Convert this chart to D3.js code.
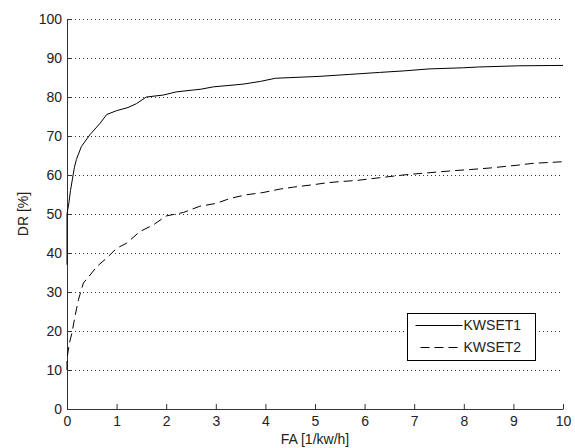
<!DOCTYPE html>
<html>
<head>
<meta charset="utf-8">
<script src="https://cdn.jsdelivr.net/npm/d3@7"></script>
<style>
  body { margin: 0; background: #fff; }
  svg { display: block; font-family: "Liberation Sans", Arial, sans-serif; }
</style>
</head>
<body>
<svg id="chart" width="575" height="448"></svg>
<script>
// values
const faSet1 = [0, 0, 0.04, 0.07, 0.11, 0.15, 0.19, 0.29, 0.46, 0.67, 0.8, 1.0, 1.23, 1.4, 1.6, 1.94, 2.2, 2.55, 2.7, 2.95, 3.55, 3.9, 4.2, 5.1, 5.7, 6.3, 6.8, 7.3, 8.0, 8.3, 9.1, 10];
const drSet1 = [37, 50, 53, 56, 59, 62, 64, 67.3, 70.3, 73.3, 75.5, 76.5, 77.3, 78.3, 80, 80.5, 81.3, 81.8, 82, 82.6, 83.3, 84, 84.8, 85.3, 85.8, 86.3, 86.7, 87.2, 87.5, 87.7, 88, 88.1];

const faSet2 = [0, 0, 0.05, 0.1, 0.16, 0.23, 0.33, 0.5, 0.6, 0.8, 1.0, 1.2, 1.47, 1.74, 2.0, 2.35, 2.68, 3.0, 3.29, 3.6, 3.95, 4.3, 4.57, 4.96, 5.24, 5.5, 5.84, 6.3, 6.85, 7.32, 7.78, 8.13, 8.53, 9.07, 9.4, 10];
const drSet2 = [10, 13, 17, 19.5, 23.7, 28, 32.3, 34.9, 36.5, 38.7, 41.2, 42.5, 45.5, 47.2, 49.5, 50.4, 52, 52.7, 54, 54.9, 55.5, 56.4, 56.9, 57.5, 58, 58.3, 58.6, 59.3, 60.1, 60.6, 61.1, 61.4, 61.8, 62.5, 63, 63.4];

const seriesNames = ["KWSET1", "KWSET2"];
const xTicks = [0, 1, 2, 3, 4, 5, 6, 7, 8, 9, 10];
const yTicks = [0, 10, 20, 30, 40, 50, 60, 70, 80, 90, 100];

const svg = d3.select("#chart");
const margin = {top: 19, right: 12, bottom: 39, left: 67};
const width = +svg.attr("width") - margin.left - margin.right;
const height = +svg.attr("height") - margin.top - margin.bottom;

const x = d3.scaleLinear().domain([0, 10]).range([0, width]);
const y = d3.scaleLinear().domain([0, 100]).range([height, 0]);

const g = svg.append("g")
  .attr("transform", "translate(" + margin.left + "," + margin.top + ")");

// dotted horizontal grid
g.append("g")
  .selectAll("line")
  .data(yTicks.filter(d => d > 0))
  .enter().append("line")
    .attr("x1", 0)
    .attr("x2", width)
    .attr("y1", d => Math.round(y(d)) + 0.5)
    .attr("y2", d => Math.round(y(d)) + 0.5)
    .attr("stroke", "#333")
    .attr("stroke-width", 1)
    .attr("stroke-dasharray", "1,3");

const xAxis = g.append("g")
  .attr("transform", "translate(0," + height + ")")
  .call(d3.axisBottom(x).tickValues(xTicks).tickSizeInner(-5).tickSizeOuter(0).tickPadding(7));
const yAxis = g.append("g")
  .call(d3.axisLeft(y).tickValues(yTicks).tickSizeInner(-5).tickSizeOuter(0).tickPadding(5));

[xAxis, yAxis].forEach(a => {
  a.selectAll("path, line").attr("stroke", "#333");
  a.selectAll("text")
    .attr("fill", "#222")
    .style("font-size", "14px")
    .style("font-family", "\"Liberation Sans\", Arial, sans-serif");
});

g.append("text")
  .attr("x", width / 2)
  .attr("y", height + 35)
  .attr("text-anchor", "middle")
  .attr("fill", "#222")
  .style("font-size", "14px")
  .text("FA [1/kw/h]");

g.append("text")
  .attr("transform", "rotate(-90)")
  .attr("x", -195)
  .attr("y", -39)
  .attr("text-anchor", "middle")
  .attr("fill", "#222")
  .style("font-size", "14px")
  .text("DR [%]");

const line = d3.line()
  .x(d => x(d[0]))
  .y(d => y(d[1]));

const set1 = faSet1.map((v, i) => [v, drSet1[i]]);
const set2 = faSet2.map((v, i) => [v, drSet2[i]]);

g.append("path")
  .datum(set1)
  .attr("fill", "none")
  .attr("stroke", "#000")
  .attr("stroke-width", 1)
  .attr("d", line);

g.append("path")
  .datum(set2)
  .attr("fill", "none")
  .attr("stroke", "#000")
  .attr("stroke-width", 1)
  .attr("stroke-dasharray", "9,5")
  .attr("d", line);

// legend
const legend = g.append("g")
  .attr("transform", "translate(" + (Math.round(x(6.85)) + 0.5) + "," + (Math.round(y(24.6)) + 0.5) + ")");

legend.append("rect")
  .attr("width", 128)
  .attr("height", 47)
  .attr("fill", "#fff")
  .attr("stroke", "#000");

legend.selectAll("line.key")
  .data(seriesNames)
  .enter().append("line")
    .attr("class", "key")
    .attr("x1", (d, i) => i === 0 ? 8 : 13)
    .attr("x2", 55)
    .attr("y1", (d, i) => 12 + i * 22)
    .attr("y2", (d, i) => 12 + i * 22)
    .attr("stroke", "#000")
    .attr("stroke-dasharray", (d, i) => i === 0 ? null : "9,5");

legend.selectAll("text.key")
  .data(seriesNames)
  .enter().append("text")
    .attr("class", "key")
    .attr("x", 56)
    .attr("y", (d, i) => 12 + i * 22)
    .attr("dy", "0.35em")
    .attr("fill", "#222")
    .style("font-size", "14px")
    .text(d => d);
</script>
</body>
</html>
